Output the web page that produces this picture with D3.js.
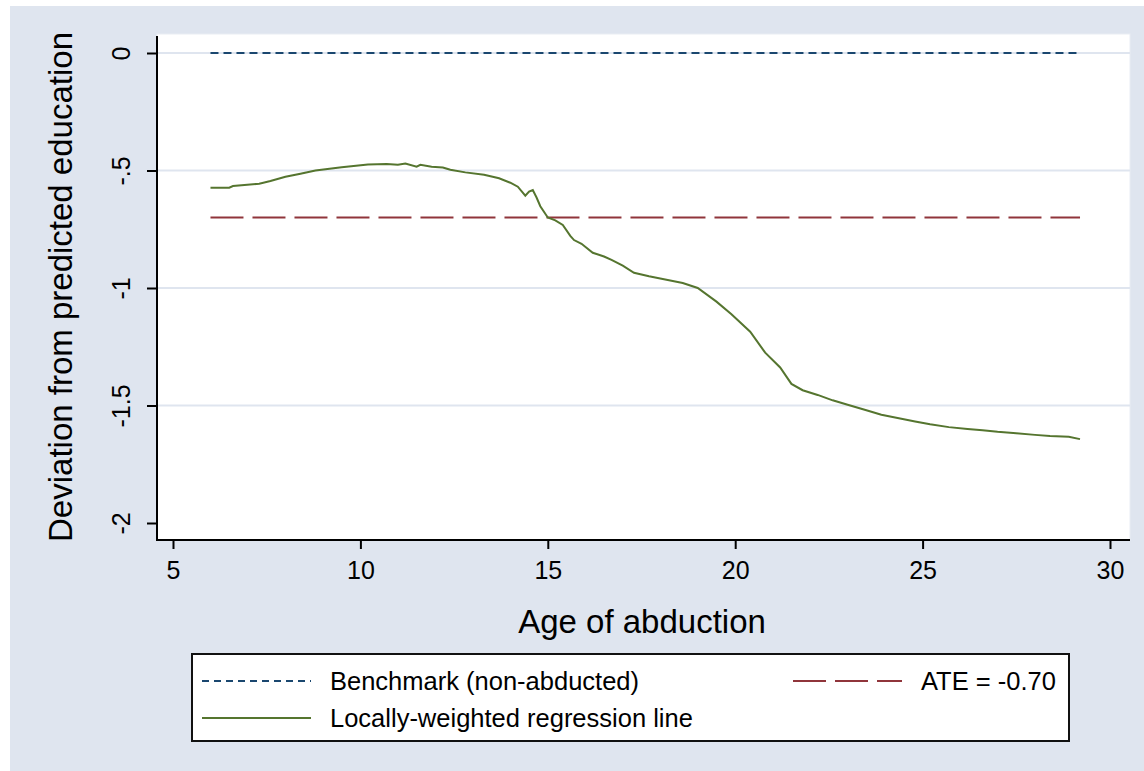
<!DOCTYPE html>
<html>
<head>
<meta charset="utf-8">
<script src="https://cdn.jsdelivr.net/npm/d3@7"></script>
<style>
  html, body { margin: 0; padding: 0; background: #fff; }
  svg { display: block; font-family: Arial, "Liberation Sans", sans-serif; }
</style>
</head>
<body>
<svg id="chart" width="1144" height="771"></svg>
<script>
// values
const xTicks = [5, 10, 15, 20, 25, 30];
const yTicks = [0, -0.5, -1, -1.5, -2];
const yTickLabels = ["0", "-.5", "-1", "-1.5", "-2"];
const gridValues = [0, -0.5, -1, -1.5];

const benchmark = 0;
const ate = -0.70;

// locally-weighted regression line (age, deviation)
const lowessAge = [6.0, 6.5, 6.6, 7.3, 7.6, 8.0, 8.4, 8.8, 9.5, 10.2, 10.7, 11.0, 11.2, 11.5, 11.6, 11.9,
  12.2, 12.4, 12.8, 13.3, 13.7, 14.0, 14.2, 14.4, 14.5, 14.6, 14.7, 14.8, 15.0, 15.2, 15.4, 15.6,
  15.7, 15.9, 16.2, 16.5, 16.7, 17.0, 17.3, 17.7, 18.2, 18.6, 19.0, 19.5, 19.9, 20.4, 20.8, 21.2,
  21.5, 21.8, 22.2, 22.6, 23.0, 23.5, 23.9, 24.4, 24.8, 25.2, 25.7, 26.2, 26.6, 27.0, 27.5, 28.0,
  28.4, 28.9, 29.2];
const lowessDev = [-0.573, -0.573, -0.566, -0.556, -0.545, -0.527, -0.514, -0.500, -0.486, -0.474, -0.472, -0.475, -0.470, -0.484, -0.476, -0.484,
  -0.487, -0.497, -0.508, -0.518, -0.533, -0.552, -0.569, -0.607, -0.590, -0.583, -0.615, -0.652, -0.700, -0.712, -0.732, -0.778,
  -0.796, -0.812, -0.850, -0.866, -0.880, -0.905, -0.935, -0.950, -0.966, -0.979, -1.000, -1.058, -1.112, -1.186, -1.275, -1.338,
  -1.408, -1.435, -1.455, -1.478, -1.497, -1.520, -1.539, -1.555, -1.568, -1.580, -1.592, -1.600, -1.605, -1.612, -1.618, -1.625,
  -1.630, -1.633, -1.643];

const legendLabels = ["Benchmark (non-abducted)", "ATE = -0.70", "Locally-weighted regression line"];

const navy = "#1a476f", maroon = "#90353b", green = "#55752f";

const svg = d3.select("#chart");

// graph region & plot region
const plot = { left: 157, right: 1130, top: 34, bottom: 540 };

svg.append("rect").attr("x", 10).attr("y", 6).attr("width", 1134).attr("height", 765)
  .attr("fill", "#dfe5ef");
svg.append("rect").attr("x", plot.left).attr("y", plot.top)
  .attr("width", plot.right - plot.left).attr("height", plot.bottom - plot.top)
  .attr("fill", "#fff").attr("stroke", "#e9edf4").attr("stroke-width", 1);

let x = d3.scaleLinear().domain([5, 30]).range([173, 1110]);
let y = d3.scaleLinear().domain([0, -2]).range([53, 523]);

// grid lines
svg.append("g").selectAll("line").data(gridValues).join("line")
  .attr("x1", plot.left).attr("x2", plot.right)
  .attr("y1", d => y(d)).attr("y2", d => y(d))
  .attr("stroke", "#dfe5ef").attr("stroke-width", 2);

// x axis
const xAxis = svg.append("g")
  .attr("transform", "translate(0," + plot.bottom + ")")
  .call(d3.axisBottom(x).tickValues(xTicks).tickSize(9).tickPadding(12).tickFormat(d3.format("d")));
xAxis.select(".domain").remove();
xAxis.selectAll("line").attr("stroke", "#000").attr("stroke-width", 2);
xAxis.selectAll("text").attr("font-size", 25).attr("fill", "#000")
  .attr("font-family", "Arial, 'Liberation Sans', sans-serif");
svg.append("line").attr("x1", plot.left - 1).attr("x2", plot.right)
  .attr("y1", plot.bottom).attr("y2", plot.bottom)
  .attr("stroke", "#000").attr("stroke-width", 2);

// y axis
const yAxis = svg.append("g")
  .attr("transform", "translate(" + plot.left + ",0)")
  .call(d3.axisLeft(y).tickValues(yTicks).tickSize(10).tickFormat((d, i) => yTickLabels[i]));
yAxis.select(".domain").remove();
yAxis.selectAll("line").attr("stroke", "#000").attr("stroke-width", 2);
yAxis.selectAll("text")
  .attr("x", 0).attr("dy", 0)
  .attr("text-anchor", "middle")
  .attr("transform", "translate(-27,0) rotate(-90)")
  .attr("font-size", 25).attr("fill", "#000")
  .attr("font-family", "Arial, 'Liberation Sans', sans-serif");
svg.append("line").attr("x1", plot.left).attr("x2", plot.left)
  .attr("y1", 36).attr("y2", plot.bottom + 1)
  .attr("stroke", "#000").attr("stroke-width", 2);

// axis titles
svg.append("text")
  .attr("x", 642).attr("y", 633)
  .attr("text-anchor", "middle").attr("font-size", 33).attr("fill", "#000")
  .text("Age of abduction");
svg.append("text")
  .attr("transform", "translate(72,287) rotate(-90)")
  .attr("text-anchor", "middle").attr("font-size", 33).attr("fill", "#000")
  .text("Deviation from predicted education");

// series
const xExtent = d3.extent(lowessAge);

svg.append("line")
  .attr("x1", x(xExtent[0])).attr("x2", x(xExtent[1]))
  .attr("y1", y(benchmark)).attr("y2", y(benchmark))
  .attr("stroke", navy).attr("stroke-width", 2).attr("stroke-dasharray", "8,5");

svg.append("line")
  .attr("x1", x(xExtent[0])).attr("x2", x(xExtent[1]))
  .attr("y1", y(ate)).attr("y2", y(ate))
  .attr("stroke", maroon).attr("stroke-width", 2).attr("stroke-dasharray", "33,9");

const lowessData = lowessAge.map((a, i) => ({ age: a, dev: lowessDev[i] }));
let valueline = d3.line()
  .x(d => x(d.age))
  .y(d => y(d.dev));
svg.append("path")
  .datum(lowessData)
  .attr("d", valueline)
  .attr("fill", "none").attr("stroke", green).attr("stroke-width", 2);

// legend
const legend = svg.append("g");
legend.append("rect")
  .attr("x", 192).attr("y", 654).attr("width", 877).attr("height", 87)
  .attr("fill", "#fff").attr("stroke", "#111").attr("stroke-width", 2);

const keys = [
  { x: 202, y: 681, color: navy, dash: "7,5", label: legendLabels[0] },
  { x: 793, y: 681, color: maroon, dash: "33,9", label: legendLabels[1] },
  { x: 202, y: 718, color: green, dash: null, label: legendLabels[2] }
];
keys.forEach(k => {
  legend.append("line")
    .attr("x1", k.x).attr("x2", k.x + 109)
    .attr("y1", k.y).attr("y2", k.y)
    .attr("stroke", k.color).attr("stroke-width", 2)
    .attr("stroke-dasharray", k.dash);
  legend.append("text")
    .attr("x", k.x + 128).attr("y", k.y + 9)
    .attr("font-size", 25.5).attr("fill", "#000")
    .text(k.label);
});
</script>
</body>
</html>
